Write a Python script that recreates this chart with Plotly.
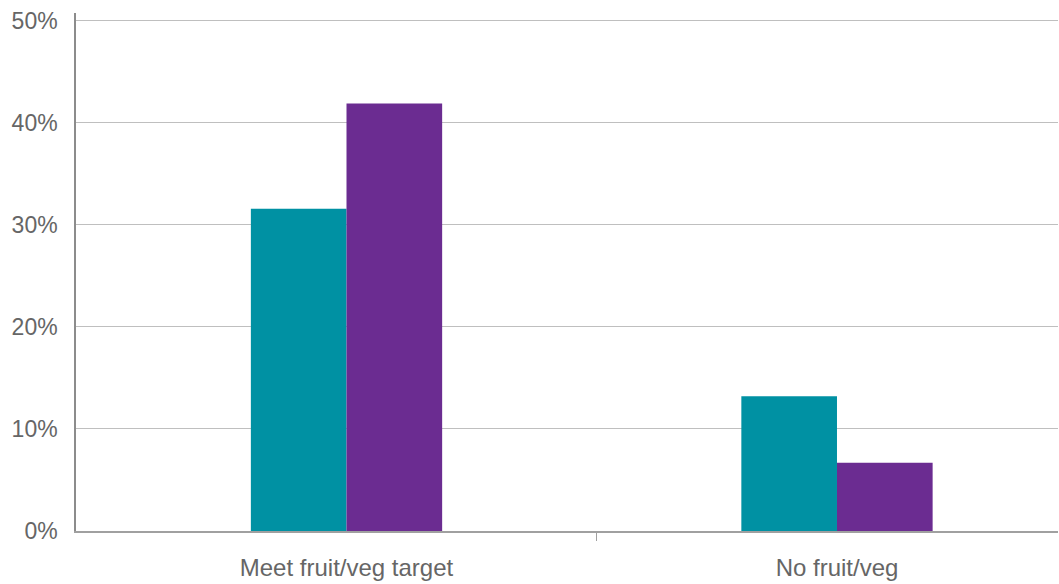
import plotly.graph_objects as go

categories = ["Meet fruit/veg target", "No fruit/veg"]
series_a = [31.6, 13.2]
series_b = [41.9, 6.7]
y_ticks = [0, 10, 20, 30, 40, 50]
y_tick_labels = ["0%", "10%", "20%", "30%", "40%", "50%"]

xpos = list(range(len(categories)))

fig = go.Figure()
fig.add_trace(go.Bar(x=xpos, y=series_a, marker=dict(color="#0091A3", line=dict(width=0)), name="A"))
fig.add_trace(go.Bar(x=xpos, y=series_b, marker=dict(color="#6B2C91", line=dict(width=0)), name="B"))

fig.update_layout(
    width=1059, height=584,
    margin=dict(l=76, r=1, t=13, b=53),
    barmode="group", bargap=0.61, bargroupgap=0,
    plot_bgcolor="white", paper_bgcolor="white",
    showlegend=False,
    font=dict(family="Liberation Sans, Arial, sans-serif", color="#666666"),
)
fig.update_xaxes(
    range=[-0.5515, 1.4506],
    tickmode="array", tickvals=xpos, ticktext=categories,
    ticks="", showgrid=False, zeroline=False,
    showline=True, linecolor="#a0a0a0", linewidth=2,
    tickfont=dict(size=24, color="#666666"),
    ticklabelstandoff=14,
    minor=dict(tickmode="array", tickvals=[0.5087], ticks="outside", ticklen=8,
               tickcolor="#a0a0a0", tickwidth=1, showgrid=False),
)
fig.update_yaxes(
    range=[0, 50.78],
    tickmode="array", tickvals=y_ticks, ticktext=y_tick_labels,
    ticks="", showgrid=True, gridcolor="#bfbfbf", gridwidth=1,
    zeroline=False, showline=True, linecolor="#8c8c8c", linewidth=1.5,
    tickfont=dict(size=23, color="#666666"),
    ticklabelstandoff=12,
)

fig.write_html("out.html")
